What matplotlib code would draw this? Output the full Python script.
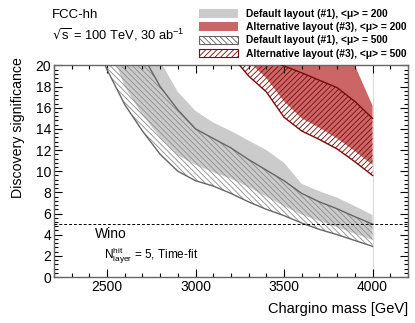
import matplotlib
matplotlib.use("Agg")
import matplotlib.pyplot as plt
from matplotlib.patches import Patch
from matplotlib.ticker import MultipleLocator

plt.rcParams['font.family'] = ['Liberation Sans', 'DejaVu Sans']
plt.rcParams['hatch.linewidth'] = 0.6

# ---- data ----
# Default layout (#1), <mu> = 200 : grey band
def200_x = [2500, 2600, 2700, 2800, 2900, 3000, 3100, 3200, 3300, 3400, 3500, 3600, 3700, 3800, 3900, 4000]
def200_lo = [22.5, 18.0, 15.3, 13.2, 11.5, 10.6, 9.9, 9.3, 8.5, 7.6, 6.7, 5.9, 5.3, 4.7, 4.1, 3.5]
def200_hi = [30.0, 27.0, 23.5, 20.4, 17.5, 15.7, 14.6, 13.8, 12.9, 12.0, 10.8, 8.8, 8.1, 7.5, 6.7, 5.85]

# Default layout (#1), <mu> = 500 : hatched band
def500_x = [2400, 2500, 2600, 2700, 2800, 2900, 3000, 3100, 3200, 3300, 3400, 3500, 3600, 3700, 3800, 3900, 4000]
def500_lo = [23.5, 19.6, 16.3, 13.8, 11.6, 10.0, 9.1, 8.6, 7.9, 7.1, 6.4, 5.8, 5.1, 4.5, 4.0, 3.45, 2.9]
def500_hi = [31.0, 28.0, 24.5, 21.0, 18.0, 15.8, 14.0, 13.1, 12.2, 11.1, 10.1, 9.1, 7.9, 7.1, 6.45, 5.7, 5.0]

# Alternative layout (#3), <mu> = 200 : red band
alt200_x = [3300, 3400, 3500, 3600, 3700, 3800, 3900, 4000]
alt200_lo = [20.4, 18.8, 16.6, 15.0, 14.1, 13.1, 11.9, 10.6]
alt200_hi = [26.0, 25.0, 24.0, 23.0, 22.0, 21.0, 20.0, 16.2]

# Alternative layout (#3), <mu> = 500 : red hatched band
alt500_x = [3200, 3300, 3400, 3500, 3600, 3700, 3800, 3900, 4000]
alt500_lo = [21.0, 19.0, 17.5, 15.1, 13.8, 13.0, 12.1, 10.9, 9.6]
alt500_hi = [22.0, 21.3, 20.6, 19.95, 19.3, 18.6, 17.9, 16.6, 15.0]

labels = ["Default layout (#1), <\u03bc> = 200",
          "Alternative layout (#3), <\u03bc> = 200",
          "Default layout (#1), <\u03bc> = 500",
          "Alternative layout (#3), <\u03bc> = 500"]

xlim = (2200, 4200)
ylim = (0, 20)
discovery = 5

grey_fill = '#cbcbcb'
red_fill = '#cc6666'
grey_line = '#666666'
red_line = '#7a0a0a'
hatch_grey = '#8c8c8c'

fig = plt.figure(figsize=(4.15, 3.23), dpi=100)
ax = fig.add_axes([0.130, 0.1424, 0.853, 0.655])

ax.fill_between(def200_x, def200_lo, def200_hi, facecolor=grey_fill, edgecolor='none', lw=0, zorder=1)
ax.fill_between(alt200_x, alt200_lo, alt200_hi, facecolor=red_fill, edgecolor='none', lw=0, zorder=1)
ax.fill_between(def500_x, def500_lo, def500_hi, facecolor='none', edgecolor=hatch_grey,
                hatch='\\' * 6, lw=0, zorder=2)
ax.fill_between(alt500_x, alt500_lo, alt500_hi, facecolor='none', edgecolor=red_line,
                hatch='/' * 6, lw=0, zorder=2)
ax.plot(def500_x, def500_lo, color=grey_line, lw=1.0, zorder=3)
ax.plot(def500_x, def500_hi, color=grey_line, lw=1.0, zorder=3)
ax.plot(alt500_x, alt500_lo, color=red_line, lw=1.0, zorder=3)
ax.plot(alt500_x, alt500_hi, color=red_line, lw=1.0, zorder=3)
ax.axvline(4000, color='#f3cfd4', lw=0.8, zorder=0.5)
ax.axhline(discovery, color='black', lw=0.7, ls=(0, (3, 2)), zorder=4)

ax.set_xlim(*xlim)
ax.set_ylim(*ylim)
ax.xaxis.set_major_locator(MultipleLocator(500))
ax.xaxis.set_minor_locator(MultipleLocator(100))
ax.yaxis.set_major_locator(MultipleLocator(2))
ax.yaxis.set_minor_locator(MultipleLocator(0.4))
ax.tick_params(which='both', direction='in', top=True, right=True, labelsize=10, colors='black', pad=2)
ax.tick_params(which='major', length=5.5, width=0.8)
ax.tick_params(which='minor', length=2.8, width=0.8)
for s in ax.spines.values():
    s.set_color('#666666')
    s.set_linewidth(1.0)

ax.set_xlabel("Chargino mass [GeV]", fontsize=10.5, loc='right', labelpad=6)
ax.set_ylabel("Discovery significance", fontsize=10.2, loc='top')
ax.yaxis.set_label_coords(-0.083, 1.04)

ax.text(2430, 4.1, "Wino", fontsize=10, ha='left', va='center')
ax.text(2480, 2.0, r"N$_{\mathregular{layer}}^{\mathregular{hit}}$ = 5, Time-fit", fontsize=8.5, ha='left', va='center')

fig.text(52/415, 1 - 15/323, "FCC-hh", fontsize=9.5, ha='left', va='center')
fig.text(52/415, 1 - 35/323, r"$\sqrt{\mathregular{s}}$ = 100 TeV, 30 ab$^{\mathregular{-1}}$", fontsize=9.3, ha='left', va='center')

handles = [Patch(facecolor=grey_fill, edgecolor='none'),
           Patch(facecolor=red_fill, edgecolor='none'),
           Patch(facecolor='white', edgecolor=grey_line, hatch='\\' * 6, lw=0.8),
           Patch(facecolor='white', edgecolor=red_line, hatch='/' * 6, lw=0.8)]
leg = fig.legend(handles, labels, loc='upper left', bbox_to_anchor=(199/415, 1 - 9/323),
                 frameon=False, prop={'weight': 'bold', 'size': 7.4},
                 handlelength=3.8, handleheight=0.9, labelspacing=0.31, handletextpad=0.78,
                 borderaxespad=0, borderpad=0)

fig.savefig("out.png", dpi=100)
